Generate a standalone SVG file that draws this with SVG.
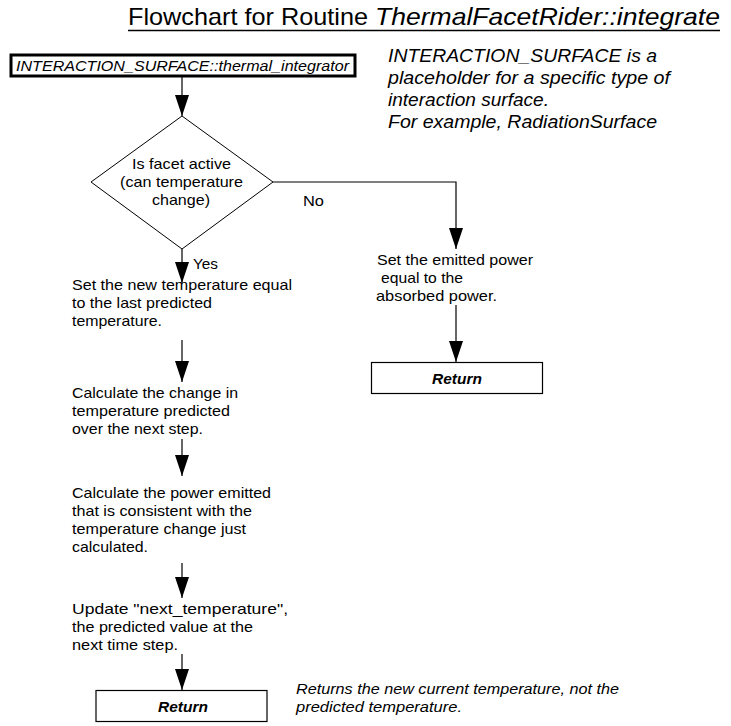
<svg xmlns="http://www.w3.org/2000/svg" width="731" height="726" viewBox="0 0 731 726">
<style>
text{font-family:"Liberation Sans",Arial,sans-serif;fill:#000}
.b{font-size:15px}
.it{font-style:italic}
.ret{font-size:15.5px;font-weight:bold;font-style:italic;text-anchor:middle}
.ln{stroke:#000;stroke-width:1.2;fill:none}
.box{fill:#fff;stroke:#000;stroke-width:1.2}
</style>
<defs>
<marker id="ah" markerUnits="userSpaceOnUse" markerWidth="21" markerHeight="14" refX="21" refY="7" orient="auto" viewBox="0 0 21 14">
<path d="M0,0 L21,7 L0,14 z" fill="#000"/>
</marker>
</defs>
<rect width="731" height="726" fill="#fff"/>

<g id="title">
<text x="128" y="25" font-size="24" textLength="240" lengthAdjust="spacingAndGlyphs">Flowchart for Routine</text>
<text x="375" y="25" font-size="24" class="it" textLength="345" lengthAdjust="spacingAndGlyphs">ThermalFacetRider::integrate</text>
<line x1="128" y1="30.5" x2="720" y2="30.5" stroke="#000" stroke-width="1.5"/>
</g>

<g id="note-top">
<text class="it" font-size="18.5" x="388" y="62" textLength="269" lengthAdjust="spacingAndGlyphs">INTERACTION_SURFACE is a</text>
<text class="it" font-size="18.5" x="388" y="84" textLength="282" lengthAdjust="spacingAndGlyphs">placeholder for a specific type of</text>
<text class="it" font-size="18.5" x="388" y="106" textLength="161" lengthAdjust="spacingAndGlyphs">interaction surface.</text>
<text class="it" font-size="18.5" x="388" y="128" textLength="269" lengthAdjust="spacingAndGlyphs">For example, RadiationSurface</text>
</g>

<g id="connectors">
<line class="ln" x1="182" y1="76" x2="182" y2="116" marker-end="url(#ah)"/>
<line class="ln" x1="182" y1="249" x2="182" y2="283" marker-end="url(#ah)"/>
<line class="ln" x1="182" y1="340" x2="182" y2="382" marker-end="url(#ah)"/>
<line class="ln" x1="182" y1="439" x2="182" y2="476" marker-end="url(#ah)"/>
<line class="ln" x1="182" y1="563" x2="182" y2="598" marker-end="url(#ah)"/>
<line class="ln" x1="182" y1="654" x2="182" y2="690" marker-end="url(#ah)"/>
<polyline class="ln" points="273,182 456,182 456,249" marker-end="url(#ah)"/>
<line class="ln" x1="456" y1="305" x2="456" y2="362" marker-end="url(#ah)"/>
<text class="b" x="193" y="269" textLength="25" lengthAdjust="spacingAndGlyphs">Yes</text>
<text class="b" x="303" y="206" textLength="21" lengthAdjust="spacingAndGlyphs">No</text>
</g>

<g id="start">
<rect x="11" y="55" width="344" height="21" fill="#fff" stroke="#000" stroke-width="3"/>
<text class="it" font-size="14" x="16" y="70.5" textLength="333" lengthAdjust="spacingAndGlyphs">INTERACTION_SURFACE::thermal_integrator</text>
</g>

<g id="decision">
<polygon points="182,116 273,182 182,249 91,182" fill="#fff" stroke="#000" stroke-width="1"/>
<text class="b" x="132" y="169" textLength="99" lengthAdjust="spacingAndGlyphs">Is facet active</text>
<text class="b" x="120" y="187" textLength="123" lengthAdjust="spacingAndGlyphs">(can temperature</text>
<text class="b" x="152" y="205" textLength="58" lengthAdjust="spacingAndGlyphs">change)</text>
</g>

<g id="step-set-temp">
<text class="b" x="72" y="290" textLength="220" lengthAdjust="spacingAndGlyphs">Set the new temperature equal</text>
<text class="b" x="72" y="308" textLength="140" lengthAdjust="spacingAndGlyphs">to the last predicted</text>
<text class="b" x="72" y="326" textLength="90" lengthAdjust="spacingAndGlyphs">temperature.</text>
</g>

<g id="step-calc-change">
<text class="b" x="72" y="398" textLength="166" lengthAdjust="spacingAndGlyphs">Calculate the change in</text>
<text class="b" x="72" y="416" textLength="158" lengthAdjust="spacingAndGlyphs">temperature predicted</text>
<text class="b" x="72" y="434" textLength="131" lengthAdjust="spacingAndGlyphs">over the next step.</text>
</g>

<g id="step-calc-power">
<text class="b" x="72" y="498" textLength="199" lengthAdjust="spacingAndGlyphs">Calculate the power emitted</text>
<text class="b" x="72" y="516" textLength="180" lengthAdjust="spacingAndGlyphs">that is consistent with the</text>
<text class="b" x="72" y="534" textLength="174" lengthAdjust="spacingAndGlyphs">temperature change just</text>
<text class="b" x="72" y="552" textLength="76" lengthAdjust="spacingAndGlyphs">calculated.</text>
</g>

<g id="step-update">
<text class="b" x="72" y="614" textLength="216" lengthAdjust="spacingAndGlyphs">Update "next_temperature",</text>
<text class="b" x="72" y="632" textLength="181" lengthAdjust="spacingAndGlyphs">the predicted value at the</text>
<text class="b" x="72" y="650" textLength="106" lengthAdjust="spacingAndGlyphs">next time step.</text>
</g>

<g id="return-main">
<rect class="box" x="96" y="690.5" width="171" height="31"/>
<text class="ret" x="183" y="712">Return</text>
</g>

<g id="note-bottom">
<text class="it" font-size="14" x="296" y="694" textLength="323" lengthAdjust="spacingAndGlyphs">Returns the new current temperature, not the</text>
<text class="it" font-size="14" x="296" y="712" textLength="166" lengthAdjust="spacingAndGlyphs">predicted temperature.</text>
</g>

<g id="step-emitted">
<text class="b" x="377" y="265" textLength="156" lengthAdjust="spacingAndGlyphs">Set the emitted power</text>
<text class="b" x="381" y="283" textLength="82" lengthAdjust="spacingAndGlyphs">equal to the</text>
<text class="b" x="376" y="301" textLength="121" lengthAdjust="spacingAndGlyphs">absorbed power.</text>
</g>

<g id="return-right">
<rect class="box" x="371.5" y="362.5" width="171" height="31"/>
<text class="ret" x="457" y="383.5">Return</text>
</g>
</svg>
